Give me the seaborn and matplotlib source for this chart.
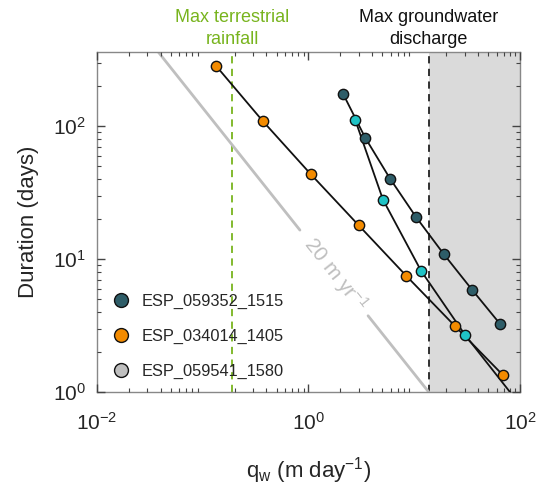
import numpy as np
import pandas as pd
import matplotlib
matplotlib.use("Agg")
import matplotlib.pyplot as plt
import seaborn as sns
from matplotlib.lines import Line2D
from matplotlib.ticker import LogLocator, NullFormatter, FixedLocator

sns.set_theme(style="ticks")
plt.rcParams['font.family'] = ['Liberation Sans', 'DejaVu Sans']
plt.rcParams['mathtext.fontset'] = 'custom'
plt.rcParams['mathtext.rm'] = 'Liberation Sans'
plt.rcParams['mathtext.it'] = 'Liberation Sans:italic'
plt.rcParams['axes.axisbelow'] = False

# ---- data ----
names = ["ESP_059352_1515", "ESP_034014_1405", "ESP_059541_1580"]
q_dark = [2.13, 3.44, 5.90, 10.4, 19.0, 35.2, 65.2]
d_dark = [174, 81.7, 40.3, 20.7, 10.9, 5.88, 3.23]
q_orange = [0.133, 0.37, 1.05, 2.99, 8.4, 24.2, 69]
d_orange = [285, 109, 43.5, 17.9, 7.48, 3.14, 1.34]
q_cyan = [2.77, 5.06, 11.6, 30.2, 131]
d_cyan = [111, 28, 8.16, 2.69, 0.61]

rain_max = 0.19
gw_max = 13.7
flux_const = 13.7          # q * D along the grey reference line
ref_q_start = 0.0378
ref_gap = [0.83, 3.66]

col_dark = "#2e5d68"
col_orange = "#f38b00"
col_cyan = "#1fc3c6"
col_grey = "#bfbfbf"
col_green = "#78b41e"

fig = plt.figure(figsize=(5.43, 4.94), dpi=100)
ax = fig.add_axes([0.1786, 0.2065, 0.779, 0.688])
ax.set_xscale("log")
ax.set_yscale("log")
ax.set_xlim(1e-2, 1e2)
ax.set_ylim(1, 360)
ax.set_axisbelow(False)

# shaded groundwater region
ax.axvspan(gw_max, 1e2, color="#dadada", zorder=0, lw=0)
ax.axvline(gw_max, color="#222222", ls=(0, (4, 3)), lw=1.3, zorder=1)
ax.axvline(rain_max, color=col_green, ls=(0, (4, 3)), lw=1.3, zorder=1)

# grey reference line with gap for label
seg1 = np.array([ref_q_start, ref_gap[0]])
seg2 = np.array([ref_gap[1], gw_max])
for seg in (seg1, seg2):
    sns.lineplot(x=seg, y=flux_const / seg, ax=ax, color=col_grey, lw=2,
                 sort=False, estimator=None, zorder=1)
qm = np.sqrt(ref_gap[0] * ref_gap[1])
ax.text(qm * 1.03, flux_const / qm * 0.97, "20 m yr$^{-1}$", color=col_grey,
        fontsize=15, rotation=-51.6, rotation_mode="anchor",
        ha="center", va="center", zorder=2)

series = [(q_dark, d_dark, col_dark), (q_orange, d_orange, col_orange),
          (q_cyan, d_cyan, col_cyan)]
for q, d, c in series:
    df = pd.DataFrame({"q": q, "d": d})
    sns.lineplot(data=df, x="q", y="d", ax=ax, color="#111111", lw=1.3,
                 sort=False, estimator=None, zorder=3)
    sns.scatterplot(data=df, x="q", y="d", ax=ax, color=c, s=55,
                    edgecolor="#111111", linewidth=1.0, zorder=4)

# legend
handles = [Line2D([], [], ls="none", marker="o", ms=10, mfc=c, mec="#111111", mew=1.0)
           for c in (col_dark, col_orange, col_grey)]
ax.legend(handles, names, loc="lower left", bbox_to_anchor=(-0.005, 0.0),
          frameon=False, fontsize=11.8, handletextpad=0.45, labelspacing=1.22,
          borderpad=0.3, handlelength=1.6)

# annotations above axes
ax.text(rain_max, 1.012, "Max terrestrial\nrainfall", color=col_green, fontsize=13,
        ha="center", va="bottom", transform=ax.get_xaxis_transform(), linespacing=1.4)
ax.text(gw_max, 1.012, "Max groundwater\ndischarge", color="#111111", fontsize=13,
        ha="center", va="bottom", transform=ax.get_xaxis_transform(), linespacing=1.4)

ax.set_xlabel("q$_\\mathregular{w}$ (m day$^{-1}$)", fontsize=16, labelpad=16)
ax.set_ylabel("Duration (days)", fontsize=16, labelpad=10)

ax.xaxis.set_major_locator(FixedLocator([1e-2, 1e0, 1e2]))
ax.yaxis.set_major_locator(FixedLocator([1e0, 1e1, 1e2]))
for axis in (ax.xaxis, ax.yaxis):
    axis.set_minor_locator(LogLocator(base=10, subs=np.arange(2, 10), numticks=20))
    axis.set_minor_formatter(NullFormatter())
ax.tick_params(which="both", direction="in", top=True, right=True, bottom=True,
               left=True, color="#444444")
ax.tick_params(which="major", length=6, width=1.0, labelsize=15)
ax.tick_params(which="minor", length=3, width=0.8)
ax.tick_params(axis="x", which="major", pad=14)
ax.tick_params(axis="y", which="major", pad=8)
for s in ax.spines.values():
    s.set_visible(True)
    s.set_color("#888888")
    s.set_linewidth(1.0)

fig.savefig("out.png", dpi=100)
